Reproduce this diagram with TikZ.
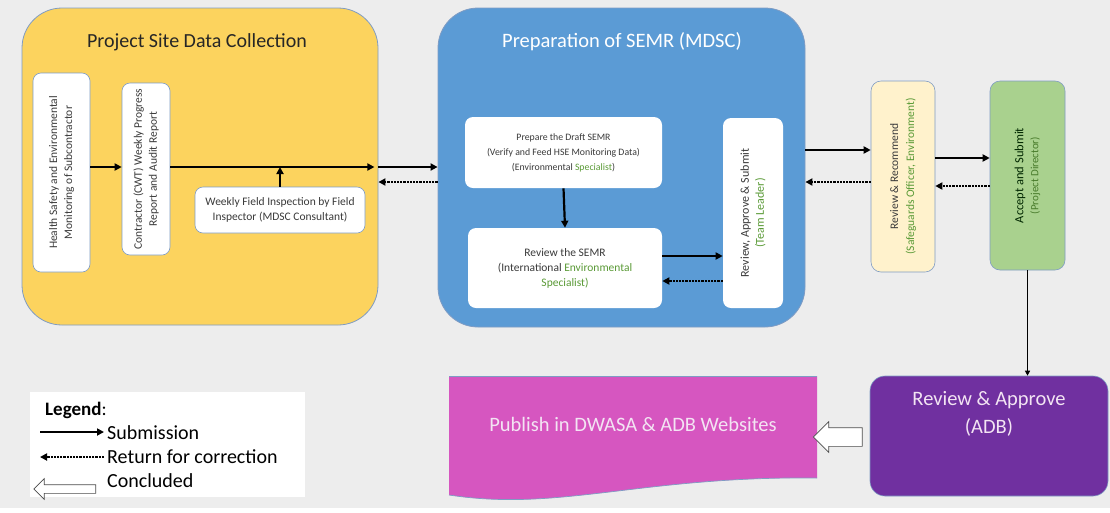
\documentclass[tikz,border=0pt]{standalone}
\usepackage{fontspec}
\setmainfont{Carlito}
\usetikzlibrary{arrows.meta,shapes.arrows,calc}
\definecolor{bgc}{HTML}{EDEDED}
\definecolor{yel}{HTML}{FCD35E}
\definecolor{blu}{HTML}{5B9BD5}
\definecolor{lyel}{HTML}{FFF2CC}
\definecolor{grn}{HTML}{A9D18E}
\definecolor{pur}{HTML}{7030A0}
\definecolor{mag}{HTML}{D656C0}
\definecolor{edge}{HTML}{7F9CC4}
\definecolor{gtxt}{HTML}{5A9A36}
\definecolor{dtxt}{HTML}{3A3A3A}
\definecolor{ptxt}{HTML}{F3E4F3}
\tikzset{
  bigbox/.style={draw=edge, line width=0.8pt, rounded corners=40pt, inner sep=0pt},
  wbox/.style={draw=edge, line width=0.6pt, fill=white, rounded corners=8pt, inner sep=0pt},
  small/.style={font=\fontsize{11.5}{15}\selectfont, text=dtxt, align=center, inner sep=0pt},
  title/.style={font=\fontsize{20}{24}\selectfont, inner sep=0pt},
  sub/.style={line width=2.2pt, -{Triangle[length=7pt,width=7pt]}},
  ret/.style={line width=2.2pt, densely dotted, -{Triangle[length=7pt,width=7pt]}},
  hollow/.style={single arrow, draw=black!70, fill=white, line width=0.7pt, shape border rotate=180, inner xsep=0pt},
  legtext/.style={font=\fontsize{20}{24}\selectfont, anchor=west, inner sep=0pt}
}
\begin{document}
\begin{tikzpicture}[x=1pt,y=-1pt]
\fill[bgc] (0,0) rectangle (1110,508);
\coordinate (ya) at (0,167);
\coordinate (yb) at (0,182);

% ---------- Project site data collection ----------
\node[bigbox, fill=yel, minimum width=356pt, minimum height=317pt] (psdc) at (200,166.5) {};
\node[title, text=black!85] (psdct) at (197,42) {Project Site Data Collection};
\node[wbox, minimum width=57pt, minimum height=199pt] (box1) at (61.5,172.5) {};
\node[small, rotate=90] (t1) at (box1.center) {Health Safety and Environmental\\Monitoring of Subcontractor};
\node[wbox, minimum width=48pt, minimum height=172pt] (box2) at (146,169) {};
\node[small, rotate=90] (t2) at (box2.center) {Contractor (CWT) Weekly Progress\\Report and Audit Report};
\node[wbox, minimum width=170pt, minimum height=46pt] (box3) at (280,210) {};
\node[small] (t3) at (box3.center) {Weekly Field Inspection by Field\\Inspector (MDSC Consultant)};

% ---------- Preparation of SEMR ----------
\node[bigbox, fill=blu, minimum width=367pt, minimum height=319pt] (semr) at (621.5,167.5) {};
\node[title, text=white, font=\fontsize{20.5}{24}\selectfont] (semrt) at (622,42) {Preparation of SEMR (MDSC)};
\node[wbox, draw=none, minimum width=197pt, minimum height=71pt] (prep) at (563.5,152.5) {};
\node[small, font=\fontsize{9.8}{15}\selectfont] (tprep) at (prep.center) {Prepare the Draft SEMR\\(Verify and Feed HSE Monitoring Data)\\(Environmental \textcolor{gtxt}{Specialist})};
\node[wbox, draw=none, minimum width=194pt, minimum height=80pt] (rev) at (565,268) {};
\node[small] (trev) at (rev.center) {Review the SEMR\\(International \textcolor{gtxt}{Environmental}\\\textcolor{gtxt}{Specialist)}};
\node[wbox, draw=none, minimum width=60pt, minimum height=190pt] (team) at (753,213) {};
\node[small, rotate=90, font=\fontsize{12}{15}\selectfont] (tteam) at (team.center) {Review, Approve \& Submit\\\textcolor{gtxt}{(Team Leader)}};

% ---------- Right column ----------
\node[wbox, fill=lyel, rounded corners=10pt, minimum width=64pt, minimum height=191pt] (rr) at (903,176.5) {};
\node[small, rotate=90, font=\fontsize{11.5}{16}\selectfont] (trr) at (rr.center) {Review \& Recommend\\\textcolor{gtxt}{(Safeguards Officer, Environment)}};
\node[wbox, fill=grn, rounded corners=10pt, minimum width=75pt, minimum height=189pt] (acc) at (1027.5,175.5) {};
\node[small, rotate=90, font=\fontsize{12.5}{15}\selectfont, text=black!70!green!50!black] (tacc) at (acc.center) {Accept and Submit\\{\fontsize{11}{14}\selectfont\textcolor{gtxt!80!black}{(Project Director)}}};

\node[draw=edge, line width=0.6pt, fill=pur, rounded corners=15pt, minimum width=238pt, minimum height=120pt, inner sep=0pt] (adb) at (989,436) {};
\node[title, text=ptxt, align=center, font=\fontsize{20.5}{28}\selectfont] (tadb) at (989,414) {Review \& Approve\\(ADB)};

% ---------- Publish ----------
\fill[mag] (449,376) -- (817,376) -- (817,478) .. controls (640,476) and (560,512) .. (449,495) -- cycle;
\draw[edge, line width=0.7pt] (449,376) -- (817,376);
\draw[edge, line width=0.7pt] (817,478) .. controls (640,476) and (560,512) .. (449,495);
\node[minimum width=368pt, minimum height=120pt, inner sep=0pt] (pub) at (633,436) {};
\node[title, text=ptxt, font=\fontsize{20.5}{24}\selectfont] (tpub) at (633,424) {Publish in DWASA \& ADB Websites};

% ---------- Connectors ----------
\draw[sub] (box1.east |- ya) -- (box2.west |- ya);
\draw[line width=2.2pt] (box2.east |- ya) -- (box3.north |- ya);
\draw[sub] (box3.north |- ya) -- ($(psdc.east |- ya)+(-4,0)$);
\draw[sub] (box3.north) -- (box3.north |- ya);
\draw[sub] (psdc.east |- ya) -- (semr.west |- ya);
\draw[ret] (semr.west |- yb) -- (psdc.east |- yb);

\draw[sub] (prep.south) -- (rev.north);
\draw[sub] (rev.east |- 0,256) -- (team.west |- 0,256);
\draw[ret] (team.west |- 0,281) -- (rev.east |- 0,281);

\draw[sub] (semr.east |- 0,150) -- (rr.west |- 0,150);
\draw[ret] (rr.west |- 0,182) -- (semr.east |- 0,182);
\draw[sub] (rr.east |- 0,158) -- (acc.west |- 0,158);
\draw[ret] (acc.west |- 0,186) -- (rr.east |- 0,186);

\draw[line width=1.6pt, -{Triangle[length=5pt,width=5pt]}] (acc.south) -- (acc.south |- adb.north);

\node[hollow, minimum height=49pt, inner ysep=9pt, single arrow head extend=6pt] (concl) at (842.5,437) {};

% ---------- Legend ----------
\node[fill=white, minimum width=275pt, minimum height=105pt, inner sep=0pt] (leg) at (167.5,444.5) {};
\node[legtext, font=\fontsize{19}{22}\selectfont] (legt) at (45,410) {\textbf{Legend}:};
\coordinate (l1a) at (40,432);
\coordinate (l1b) at (104,432);
\draw[sub, line width=1.8pt] (l1a) -- (l1b);
\node[legtext] (lsub) at (107,433) {Submission};
\coordinate (l2a) at (104,457);
\coordinate (l2b) at (40,457);
\draw[ret, line width=1.8pt] (l2a) -- (l2b);
\node[legtext] (lret) at (107,457) {Return for correction};
\node[hollow, minimum height=62pt, inner ysep=4pt, single arrow head extend=6pt] (lcon) at (67,489) {};
\node[legtext] (lcont) at (107,481) {Concluded};
\end{tikzpicture}
\end{document}
